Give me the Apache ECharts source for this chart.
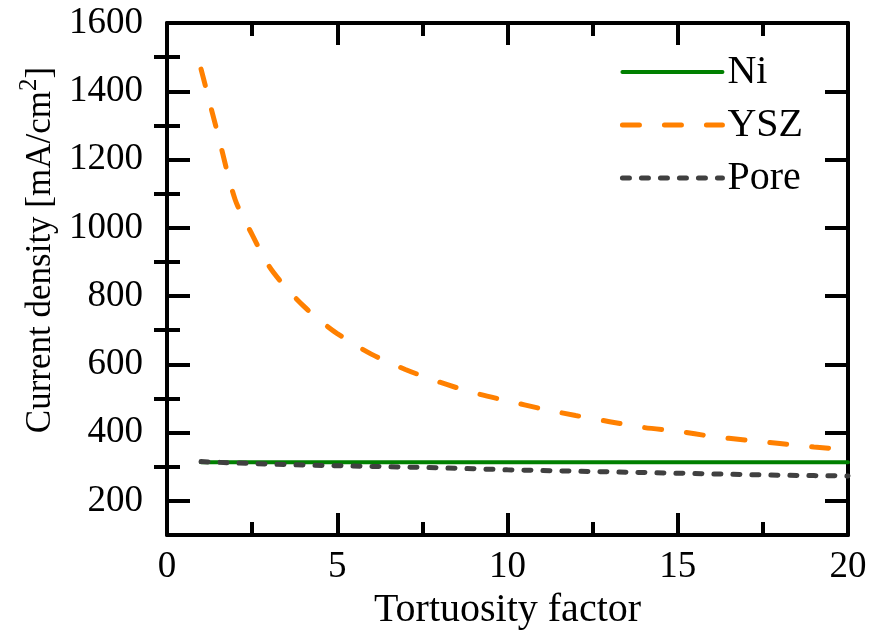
<!DOCTYPE html>
<html>
<head>
<meta charset="utf-8">
<script src="https://cdn.jsdelivr.net/npm/echarts@6/dist/echarts.min.js"></script>
<style>html,body{margin:0;padding:0;background:#fff}#c{width:872px;height:641px}</style>
</head>
<body>
<div id="c"></div>
<script>
// Data
const yszX = [1, 1.5, 2, 2.5, 3, 3.5, 4, 4.5, 5, 6, 7, 8, 9, 10, 11, 12, 13, 14, 15, 16, 17, 18, 19, 20];
const yszY = [1465, 1272, 1083, 980, 887, 824, 772, 728, 690, 630, 585, 548, 517, 493, 470, 450, 432, 415, 404, 389, 378, 368, 358, 350];
const intX = [1, 2, 3, 4, 5, 6, 7, 8, 9, 10, 11, 12, 13, 14, 15, 16, 17, 18, 19, 20];
const niY = [313, 313, 313, 313, 313, 313, 313, 313, 313, 313, 313, 313, 313, 313, 313, 313, 313, 313, 313, 313];
const poreY = [315, 311, 308, 305, 303, 301, 299, 297, 294, 291, 289, 287, 285, 283, 281, 279, 277, 275, 274, 273];
const yMajor = [200, 400, 600, 800, 1000, 1200, 1400, 1600];
const yMinor = [300, 500, 700, 900, 1100, 1300, 1500];
const seriesNames = ['Ni', 'YSZ', 'Pore'];

const font = 'Liberation Serif';
const pair = (xs, ys) => xs.map((x, i) => [x, ys[i]]);
const plain = v => String(v);

const styles = [
  {color: '#008000', width: 4, type: 'solid', cap: 'round'},
  {color: '#ff8000', width: 5, type: [17, 25], cap: 'round'},
  {color: '#404040', width: 5, type: [7, 12], cap: 'round'}
];

const axisLine = {show: true, onZero: false, lineStyle: {color: '#000', width: 4}};
const chart = echarts.init(document.getElementById('c'));
chart.setOption({
  animation: false,
  backgroundColor: '#fff',
  grid: {left: 167, right: 24, top: 23, bottom: 106, containLabel: false},
  xAxis: [{
    type: 'value', position: 'bottom', min: 0, max: 20, interval: 5,
    axisLine: axisLine,
    axisTick: {show: true, inside: true, length: 22, lineStyle: {color: '#000', width: 4}},
    minorTick: {show: true, splitNumber: 2, length: 13, lineStyle: {color: '#000', width: 4}},
    axisLabel: {fontFamily: font, fontSize: 37, color: '#000', margin: 14, formatter: plain},
    splitLine: {show: false},
    name: 'Tortuosity factor', nameLocation: 'middle', nameGap: 55,
    nameTextStyle: {fontFamily: font, fontSize: 40, color: '#000'}
  }, {
    type: 'value', position: 'top', min: 0, max: 20, interval: 5,
    axisLine: axisLine,
    axisTick: {show: true, inside: true, length: 22, lineStyle: {color: '#000', width: 4}},
    minorTick: {show: true, splitNumber: 2, length: 13, lineStyle: {color: '#000', width: 4}},
    axisLabel: {show: false}, splitLine: {show: false}
  }],
  yAxis: [{
    type: 'value', position: 'left', min: 100, max: 1600,
    axisLine: axisLine,
    axisTick: {show: true, inside: true, length: 23, customValues: yMajor, lineStyle: {color: '#000', width: 4}},
    axisLabel: {fontFamily: font, fontSize: 37, color: '#000', margin: 24, customValues: yMajor, formatter: plain},
    splitLine: {show: false},
    name: '{a|Current density [mA/cm}{s|2}{a|]}', nameLocation: 'middle', nameGap: 100, nameRotate: 90,
    nameTextStyle: {
      padding: [0, 0, 0, 58],
      rich: {
        a: {fontFamily: font, fontSize: 35, color: '#000', lineHeight: 48},
        s: {fontFamily: font, fontSize: 25, color: '#000', lineHeight: 25, verticalAlign: 'top'}
      }
    }
  }, {
    type: 'value', position: 'left', min: 100, max: 1600,
    axisLine: {show: false},
    axisTick: {show: true, inside: true, length: 13, customValues: yMinor, lineStyle: {color: '#000', width: 4}},
    axisLabel: {show: false}, splitLine: {show: false}
  }, {
    type: 'value', position: 'right', min: 100, max: 1600,
    axisLine: axisLine,
    axisTick: {show: true, inside: true, length: 23, customValues: yMajor, lineStyle: {color: '#000', width: 4}},
    axisLabel: {show: false}, splitLine: {show: false}
  }, {
    type: 'value', position: 'right', min: 100, max: 1600,
    axisLine: {show: false},
    axisTick: {show: true, inside: true, length: 13, customValues: yMinor, lineStyle: {color: '#000', width: 4}},
    axisLabel: {show: false}, splitLine: {show: false}
  }],
  legend: {
    show: true, orient: 'vertical', right: 64, top: 47, itemWidth: 100, itemHeight: 14, itemGap: 13,
    textStyle: {fontFamily: font, fontSize: 40, color: '#000'},
    data: seriesNames.map((n, i) => ({
      name: n,
      itemStyle: {opacity: 0},
      lineStyle: {color: styles[i].color, width: styles[i].width, type: styles[i].type, cap: styles[i].cap, opacity: 1}
    }))
  },
  series: seriesNames.map((n, i) => ({
    name: n, type: 'line', showSymbol: false, symbol: 'none',
    smooth: i === 1 ? 0.3 : false,
    data: i === 0 ? pair(intX, niY) : i === 1 ? pair(yszX, yszY) : pair(intX, poreY),
    lineStyle: styles[i], itemStyle: {color: styles[i].color}
  }))
});
</script>
</body>
</html>
